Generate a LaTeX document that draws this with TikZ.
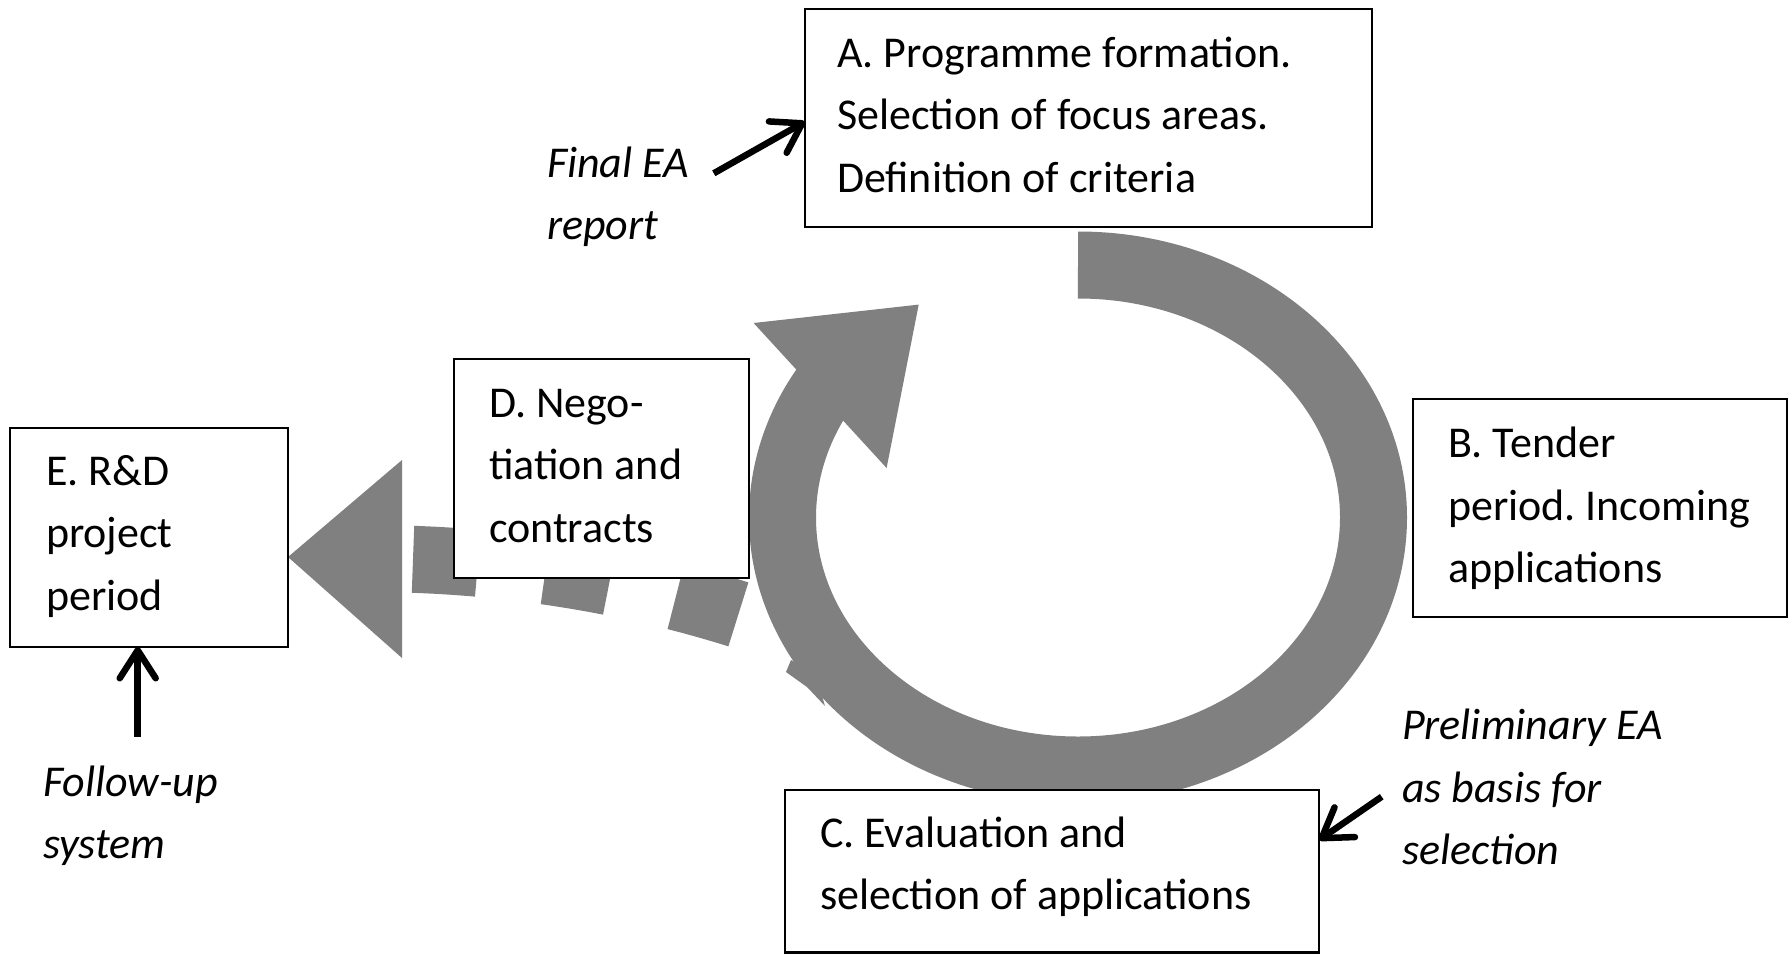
\documentclass[tikz,border=0pt]{standalone}
\usepackage{fontspec}
\setmainfont{Carlito}
\usetikzlibrary{arrows.meta,backgrounds}
\definecolor{bandgrey}{RGB}{128,128,128}
\frenchspacing
\begin{document}
\begin{tikzpicture}[x=1pt,y=-1pt,
  box/.style={draw=black, line width=2.8pt, fill=white, inner sep=0pt, outer sep=0pt, anchor=north west},
  txt/.style={font=\fontsize{44}{62.5}\selectfont, align=left, inner sep=0pt, outer sep=0pt, anchor=base west},
  note/.style={txt, font=\fontsize{44}{62.5}\selectfont\itshape},
  band/.style={draw=bandgrey, line width=67pt},
  ptr/.style={draw=black, line width=6.5pt, -{Straight Barb[length=28pt,width=36pt,round]}}
]
\useasboundingbox (0,0) rectangle (1789,954);

% boxes
\node[box, minimum width=567pt, minimum height=218pt] (A) at (805,9) {};
\node[box, minimum width=374pt, minimum height=218pt] (B) at (1413,399) {};
\node[box, minimum width=534pt, minimum height=162.5pt] (C) at (785,790) {};
\node[box, minimum width=295pt, minimum height=219pt] (D) at (454,359) {};
\node[box, minimum width=278pt, minimum height=219pt] (E) at (10,428) {};

% box texts (anchored at the baseline of their last line)
\node[txt] (At) at (837,192) {A. Programme formation.\\Selection of focus areas.\\Definition of criteria};
\node[txt] (Bt) at (1448,582.5) {B. Tender\\period. Incoming\\applications};
\node[txt] (Ct) at (820,909.5) {C. Evaluation and\\selection of applications};
\node[txt] (Dt) at (489,542) {D. Nego-\\tiation and\\contracts};
\node[txt] (Et) at (46,610) {E. R\&D\\project\\period};

% notes
\node[note] (fea) at (547,239.5) {Final EA\\report};
\node[note] (pea) at (1402,864.5) {Preliminary EA\\as basis for\\selection};
\node[note] (fus) at (43,858.5) {Follow-up\\system};

% note arrows
\coordinate (feaTail) at (713.8,173.3);
\coordinate (peaTail) at (1381.7,796.7);
\coordinate (fusTail) at (137.7,736.7);
\draw[ptr] (feaTail) -- ([yshift=-112.7pt]A.north west);
\draw[ptr] (peaTail) -- ([yshift=-50pt]C.north east);
\draw[ptr] (fusTail) -- ([xshift=127.7pt]E.south west);

% grey cycle and dashed arrow
\coordinate (cTop) at (1078,265);
\coordinate (dashStart) at (413,559.3);
\coordinate (dashEnd) at (739.7,614.8);
\begin{scope}[on background layer]
  \draw[band, dash pattern=on 65pt off 68pt] (dashStart) .. controls (523,563.1) and (634.8,581.7) .. (dashEnd);
  \fill[bandgrey] ([yshift=-129pt]E.north east) -- (402,460) -- (402,658) -- cycle;
  \draw[band] (cTop) arc[start angle=-90, end angle=212, x radius=295.5, y radius=252.5];
  \fill[bandgrey] (918.7,304.6) -- (753.6,323) -- (886.6,468) -- cycle;
  \fill[bandgrey] (791,660) -- (786,672) -- (807,687) -- (825,706) -- (815,672) -- cycle;
\end{scope}
\end{tikzpicture}
\end{document}
